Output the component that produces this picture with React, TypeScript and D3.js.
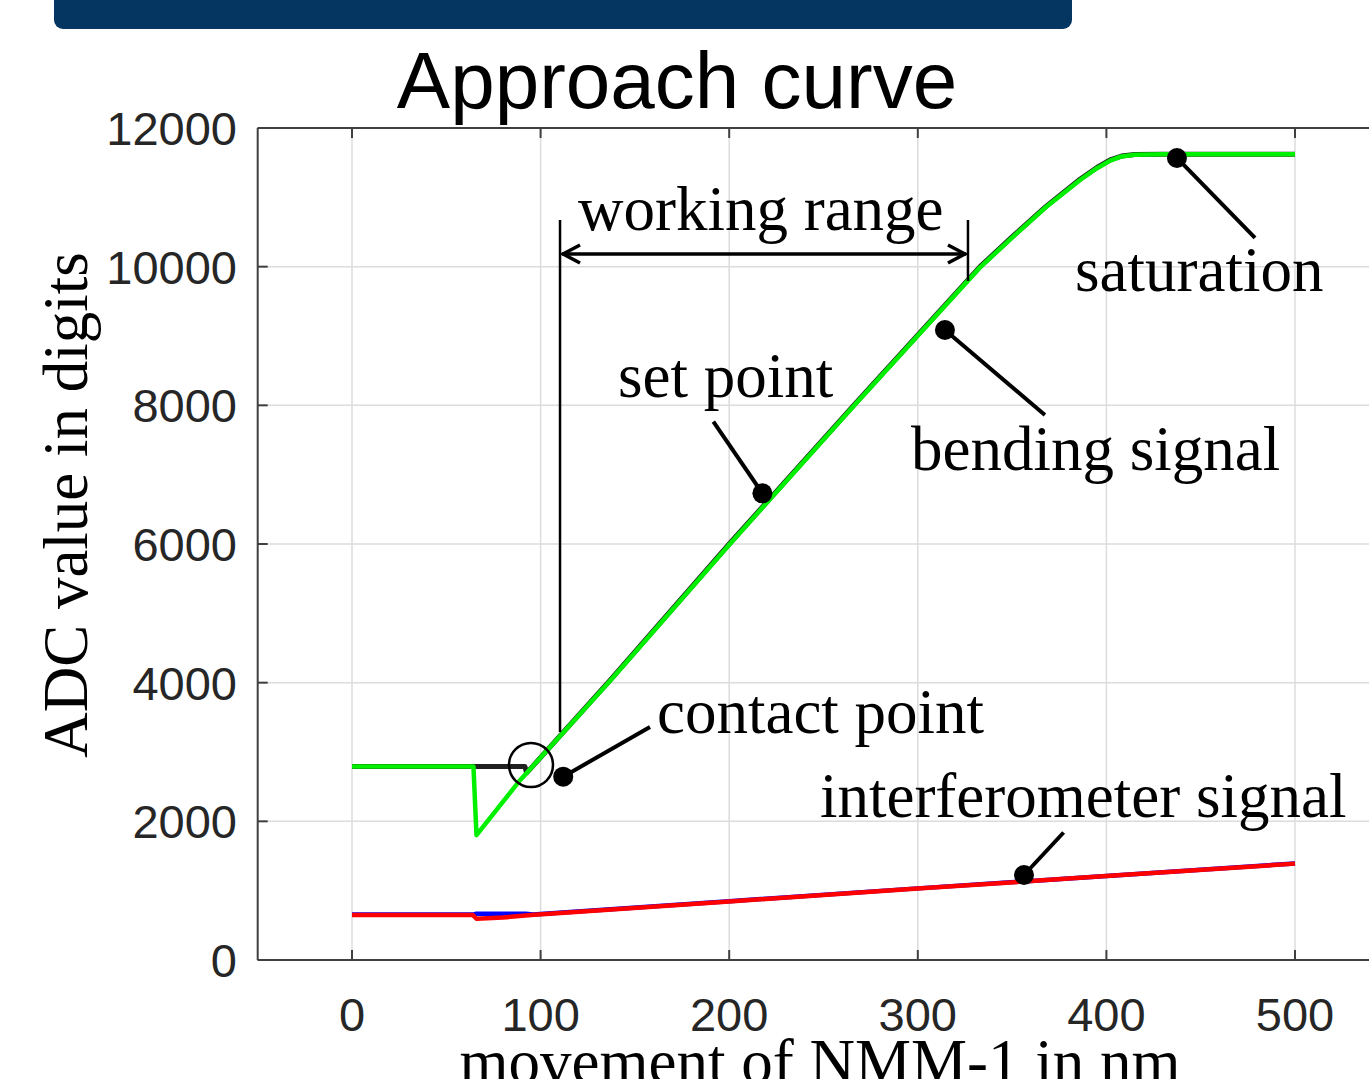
import React from "react";
import * as d3 from "d3";

const W = 1369;
const H = 1079;

// data (nm, ADC digits)
const xTicks = [0, 100, 200, 300, 400, 500];
const yTicks = [0, 2000, 4000, 6000, 8000, 10000, 12000];

const bendingX = [0, 64.4, 66, 89, 137, 200, 266, 333, 350, 368, 386, 395, 402, 408, 415, 430, 500];
const bendingY = [2790, 2790, 1800, 2590, 4030, 5990, 7990, 9990, 10420, 10860, 11250, 11420, 11530, 11590, 11615, 11620, 11620];

const blackX = [0, 91.7, 92.6, 96, 137, 200, 266, 333, 350, 368, 386, 395, 402, 408, 415, 430, 500];
const blackY = [2790, 2790, 2700, 2800, 4040, 6000, 8000, 10000, 10430, 10870, 11260, 11430, 11540, 11595, 11618, 11620, 11620];

const redX = [0, 64, 66, 80, 95, 200, 300, 400, 500];
const redY = [650, 650, 595, 612, 650, 845, 1030, 1210, 1390];

const blueX = [0, 64, 66, 92, 96, 200, 300, 400, 500];
const blueY = [655, 655, 668, 668, 655, 848, 1033, 1213, 1393];

// annotations in data units
const dotLabels = ["saturation", "bending signal", "set point", "contact point", "interferometer signal"];
const dotX = [437.4, 314.4, 217.6, 112, 356.3];
const dotY = [11568, 9087, 6731, 2644, 1226];
const leaderX = [478.8, 367.4, 191.6, 158, 377.3];
const leaderY = [10414, 7861, 7764, 3361, 1839];
const labelX = [383.4, 296.4, 141, 161.7, 248.1];
const labelY = [9650, 7068, 8121, 3274, 2063];

const rangeLabel = "working range";
const rangeLabelX = 119.8;
const rangeLabelY = 10529;
const rangeLeft = 110.3;
const rangeRight = 326.6;
const rangeArrowY = 10183;
const rangeTopY = 10673;
const rangeLeftBottomY = 3289;
const rangeRightBottomY = 9794;

const circleX = 94.9;
const circleY = 2813;

const title = "Approach curve";
const xLabel = "movement of NMM-1 in nm";
const yLabel = "ADC value in digits";

export default function App() {
  const x = d3.scaleLinear().domain([0, 500]).range([352, 1295]);
  const y = d3.scaleLinear().domain([0, 12000]).range([960, 128]);
  const left = x(-50);
  const right = x(550);
  const top = y(12000);
  const bottom = y(0);

  const line = d3
    .line<[number, number]>()
    .x((d) => x(d[0]))
    .y((d) => y(d[1]));
  const zip = (a: number[], b: number[]) => a.map((v, i) => [v, b[i]] as [number, number]);

  const serif = "'Liberation Serif', 'Times New Roman', serif";
  const sans = "'Liberation Sans', Arial, sans-serif";
  const axisColor = "#404040";

  const ay = y(rangeArrowY);
  const al = x(rangeLeft);
  const ar = x(rangeRight);

  return (
    <svg
      width={W}
      height={H}
      style={{ position: "absolute", left: 0, top: 0, background: "#fff" }}
    >
      <rect x={0} y={0} width={W} height={H} fill="#fff" />
      <rect x={54} y={-20} width={1018} height={49} rx={9} fill="#053662" />
      <text x={677} y={108} fontSize={80} fontFamily={sans} textAnchor="middle" fill="#000">
        {title}
      </text>

      {/* grid */}
      {xTicks.map((t) => (
        <line key={"gx" + t} x1={x(t)} x2={x(t)} y1={top} y2={bottom} stroke="#dcdcdc" strokeWidth={1.5} />
      ))}
      {yTicks.map((t) => (
        <line key={"gy" + t} x1={left} x2={right} y1={y(t)} y2={y(t)} stroke="#dcdcdc" strokeWidth={1.5} />
      ))}

      {/* axes */}
      <line x1={left} x2={right} y1={bottom} y2={bottom} stroke={axisColor} strokeWidth={2} />
      <line x1={left} x2={right} y1={top} y2={top} stroke={axisColor} strokeWidth={2} />
      <line x1={left} x2={left} y1={top} y2={bottom} stroke={axisColor} strokeWidth={2} />
      {xTicks.map((t) => (
        <g key={"tx" + t}>
          <line x1={x(t)} x2={x(t)} y1={bottom} y2={bottom - 10} stroke={axisColor} strokeWidth={2} />
          <line x1={x(t)} x2={x(t)} y1={top} y2={top + 10} stroke={axisColor} strokeWidth={2} />
          <text x={x(t)} y={1031} fontSize={47} fontFamily={sans} textAnchor="middle" fill="#262626">
            {t}
          </text>
        </g>
      ))}
      {yTicks.map((t) => (
        <g key={"ty" + t}>
          <line x1={left} x2={left + 10} y1={y(t)} y2={y(t)} stroke={axisColor} strokeWidth={2} />
          <text
            x={237}
            y={y(t)}
            dy="0.36em"
            fontSize={47}
            fontFamily={sans}
            textAnchor="end"
            fill="#262626"
          >
            {t}
          </text>
        </g>
      ))}

      {/* series */}
      <path d={line(zip(blueX, blueY)) || ""} fill="none" stroke="#0000ff" strokeWidth={4.5} strokeLinejoin="round" />
      <path d={line(zip(redX, redY)) || ""} fill="none" stroke="#ff0000" strokeWidth={4.5} strokeLinejoin="round" />
      <path d={line(zip(blackX, blackY)) || ""} fill="none" stroke="#202020" strokeWidth={5} strokeLinejoin="round" />
      <path d={line(zip(bendingX, bendingY)) || ""} fill="none" stroke="#00f000" strokeWidth={4.5} strokeLinejoin="round" />

      {/* working range */}
      <line x1={al} x2={al} y1={y(rangeTopY)} y2={y(rangeLeftBottomY)} stroke="#000" strokeWidth={2.5} />
      <line x1={ar} x2={ar} y1={y(rangeTopY)} y2={y(rangeRightBottomY)} stroke="#000" strokeWidth={2.5} />
      <line x1={al + 2} x2={ar - 2} y1={ay} y2={ay} stroke="#000" strokeWidth={3.5} />
      <path
        d={`M${al + 20},${ay - 9} L${al + 3},${ay} L${al + 20},${ay + 9}`}
        fill="none"
        stroke="#000"
        strokeWidth={3.5}
      />
      <path
        d={`M${ar - 20},${ay - 9} L${ar - 3},${ay} L${ar - 20},${ay + 9}`}
        fill="none"
        stroke="#000"
        strokeWidth={3.5}
      />
      <text x={x(rangeLabelX)} y={y(rangeLabelY)} fontSize={63} fontFamily={serif} fill="#000">
        {rangeLabel}
      </text>

      {/* contact circle */}
      <circle cx={x(circleX)} cy={y(circleY)} r={22} fill="none" stroke="#000" strokeWidth={2.5} />

      {/* dot annotations */}
      {dotLabels.map((lab, i) => (
        <g key={lab}>
          <line
            x1={x(dotX[i])}
            y1={y(dotY[i])}
            x2={x(leaderX[i])}
            y2={y(leaderY[i])}
            stroke="#000"
            strokeWidth={4}
          />
          <circle cx={x(dotX[i])} cy={y(dotY[i])} r={10} fill="#000" />
          <text x={x(labelX[i])} y={y(labelY[i])} fontSize={63} fontFamily={serif} fill="#000">
            {lab}
          </text>
        </g>
      ))}

      {/* axis labels */}
      <text x={820} y={1083} fontSize={63} fontFamily={serif} textAnchor="middle" fill="#000">
        {xLabel}
      </text>
      <text
        transform={`translate(87,505) rotate(-90)`}
        fontSize={63}
        fontFamily={serif}
        textAnchor="middle"
        fill="#000"
      >
        {yLabel}
      </text>
    </svg>
  );
}
